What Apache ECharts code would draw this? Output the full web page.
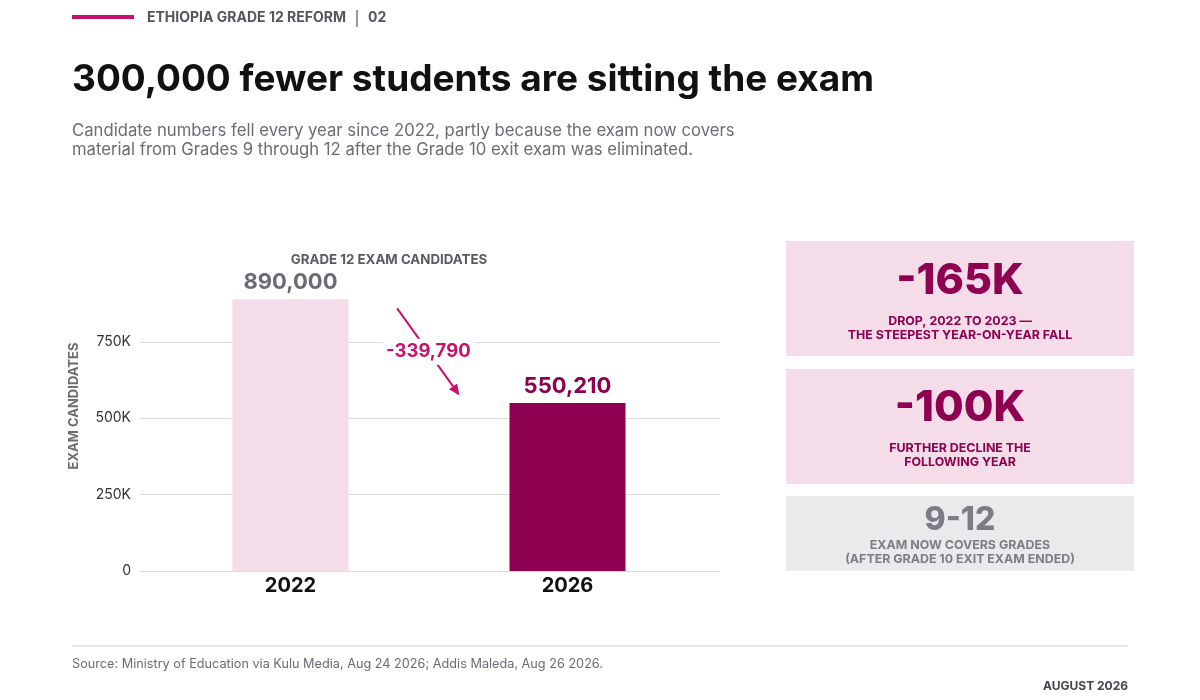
<!DOCTYPE html>
<html>
<head>
<meta charset="utf-8">
<script src="https://cdn.jsdelivr.net/npm/echarts/dist/echarts.min.js"></script>
<style>
  html, body { margin: 0; padding: 0; background: #fff; }
  #main { width: 1200px; height: 700px; }
</style>
</head>
<body>
<div id="main"></div>
<script>
// 数据
const years = ['2022', '2026'];
const candidates = [890000, 550210];
const change = -339790;
const yTicks = [0, 250000, 500000, 750000];
const yMax = 979000;

const statValues = ['-165K', '-100K', '9-12'];
const statNotes = [
    'DROP, 2022 TO 2023 —\nTHE STEEPEST YEAR-ON-YEAR FALL',
    'FURTHER DECLINE THE\nFOLLOWING YEAR',
    'EXAM NOW COVERS GRADES\n(AFTER GRADE 10 EXIT EXAM ENDED)'
];

// 颜色
const barColors = ['#f4dce8', '#8e0050'];
const labelColors = ['#6b6b73', '#8e0050'];
const accent = '#c8106e';
const FONT = 'Inter, "Noto Sans", sans-serif';

const myChart = echarts.init(document.getElementById('main'));

// 右侧的三个数据卡片
const cardBoxes = [
    { y: 241, h: 115, fill: '#f4dce8', color: '#8e0050', bigSize: 43, bigY: 281, noteY: 321 },
    { y: 369, h: 115, fill: '#f4dce8', color: '#8e0050', bigSize: 43, bigY: 408, noteY: 448 },
    { y: 496, h: 75, fill: '#eaeaed', color: '#7c7c84', bigSize: 32, bigY: 520, noteY: 545 }
];
const cards = [];
cardBoxes.forEach((b, i) => {
    cards.push({
        type: 'rect', shape: { x: 786, y: b.y, width: 348, height: b.h },
        style: { fill: b.fill }, silent: true
    });
    cards.push({
        type: 'text', x: 960, y: b.bigY,
        style: { text: statValues[i], fill: b.color, font: '800 ' + b.bigSize + 'px ' + FONT, textAlign: 'center', textVerticalAlign: 'middle' }
    });
    cards.push({
        type: 'text', x: 960, y: b.noteY - 7,
        style: { text: statNotes[i], fill: b.color, font: '700 12.4px ' + FONT, textAlign: 'center', textVerticalAlign: 'top', lineHeight: 14 }
    });
});

const headerGraphics = [
    { type: 'rect', shape: { x: 72, y: 15, width: 62, height: 4 }, style: { fill: accent } },
    { type: 'text', x: 147, y: 18, style: { text: 'ETHIOPIA GRADE 12 REFORM', fill: '#55555e', font: '700 14px ' + FONT, textVerticalAlign: 'middle' } },
    { type: 'line', shape: { x1: 357, y1: 10, x2: 357, y2: 27 }, style: { stroke: '#55555e', lineWidth: 1.2 } },
    { type: 'text', x: 368, y: 18, style: { text: '02', fill: '#55555e', font: '700 14px ' + FONT, textVerticalAlign: 'middle' } },
    { type: 'text', x: 72, y: 80, style: { text: '300,000 fewer students are sitting the exam', fill: '#111111', font: '700 37px ' + FONT, textVerticalAlign: 'middle' } },
    { type: 'text', x: 72, y: 122, style: { text: 'Candidate numbers fell every year since 2022, partly because the exam now covers\nmaterial from Grades 9 through 12 after the Grade 10 exit exam was eliminated.', fill: '#6b6b73', font: '400 16.7px ' + FONT, textVerticalAlign: 'top', lineHeight: 18.5 } },
    { type: 'text', x: 389, y: 260, style: { text: 'GRADE 12 EXAM CANDIDATES', fill: '#5a5a62', font: '700 13.3px ' + FONT, textAlign: 'center', textVerticalAlign: 'middle' } },
    { type: 'text', x: 74, y: 406, rotation: Math.PI / 2, style: { text: 'EXAM CANDIDATES', fill: '#6b6b73', font: '700 13px ' + FONT, textAlign: 'center', textVerticalAlign: 'middle' } },
    { type: 'line', shape: { x1: 72, y1: 646, x2: 1128, y2: 646 }, style: { stroke: '#dddddd', lineWidth: 1.5 } },
    { type: 'text', x: 72, y: 664, style: { text: 'Source: Ministry of Education via Kulu Media, Aug 24 2026; Addis Maleda, Aug 26 2026.', fill: '#6b6b73', font: '400 12.7px ' + FONT, textVerticalAlign: 'middle' } },
    { type: 'text', x: 1128, y: 686, style: { text: 'AUGUST 2026', fill: '#44444c', font: '700 12px ' + FONT, textAlign: 'right', textVerticalAlign: 'middle' } }
];

const option = {
    backgroundColor: '#ffffff',
    animation: false,
    textStyle: { fontFamily: FONT },
    // grid 0: 网格线和y轴标签；grid 1: 柱子
    grid: [
        { left: 140, right: 480, top: 272, bottom: 129 },
        { left: 152, right: 494, top: 272, bottom: 129 }
    ],
    xAxis: [
        { type: 'category', gridIndex: 0, data: years, show: false },
        {
            type: 'category',
            gridIndex: 1,
            data: years,
            axisLine: { show: false },
            axisTick: { show: false },
            axisLabel: { color: '#111111', fontSize: 20, fontWeight: 700, margin: 5 }
        }
    ],
    yAxis: [
        {
            type: 'value',
            gridIndex: 0,
            min: 0,
            max: yMax,
            interval: 250000,
            axisLine: { show: false },
            axisTick: { show: false },
            splitLine: { showMaxLine: false, lineStyle: { color: '#dcdcdc', width: 1 } },
            axisLabel: {
                color: '#333333', fontSize: 14, margin: 9,
                showMaxLabel: false,
                formatter: v => yTicks.indexOf(v) < 0 ? '' : (v === 0 ? '0' : (v / 1000) + 'K')
            }
        },
        { type: 'value', gridIndex: 1, min: 0, max: yMax, show: false, splitLine: { show: false } }
    ],
    series: [{
        type: 'bar',
        xAxisIndex: 1,
        yAxisIndex: 1,
        barWidth: 116,
        data: candidates.map((v, i) => ({
            value: v,
            itemStyle: { color: barColors[i] },
            label: { color: labelColors[i] }
        })),
        label: {
            show: true,
            position: 'top',
            distance: 6,
            fontSize: 22,
            fontWeight: 700,
            formatter: p => p.value.toLocaleString('en-US')
        }
    }],
    graphic: headerGraphics.concat(cards)
};

myChart.setOption(option);

// 变化箭头，位置由坐标轴换算
const c0 = myChart.convertToPixel({ seriesIndex: 0 }, [0, 0]);
const c1 = myChart.convertToPixel({ seriesIndex: 0 }, [1, 0]);
const px = f => c0[0] + f * (c1[0] - c0[0]);
const py = v => myChart.convertToPixel({ seriesIndex: 0 }, [0, v])[1];
const sx = px(0.385), sy = py(860000);
const ex = px(0.61), ey = py(575000);
const mx = (sx + ex) / 2, my = (sy + ey) / 2;
const ang = Math.atan2(ey - sy, ex - sx);
const hl = 11, hw = 5;
const bx = ex - hl * Math.cos(ang), by = ey - hl * Math.sin(ang);
const arrow = [
    { type: 'line', z: 100, shape: { x1: sx, y1: sy, x2: bx, y2: by }, style: { stroke: accent, lineWidth: 2 } },
    { type: 'polygon', z: 100, shape: { points: [[ex, ey], [bx - hw * Math.sin(ang), by + hw * Math.cos(ang)], [bx + hw * Math.sin(ang), by - hw * Math.cos(ang)]] }, style: { fill: accent } },
    { type: 'rect', z: 101, shape: { x: mx - 46, y: my - 13, width: 92, height: 26 }, style: { fill: '#ffffff' } },
    { type: 'text', z: 102, x: mx, y: my, style: { text: change.toLocaleString('en-US'), fill: accent, font: '700 18.5px ' + FONT, textAlign: 'center', textVerticalAlign: 'middle' } }
];
myChart.setOption({ graphic: headerGraphics.concat(cards, arrow) });
</script>
</body>
</html>
